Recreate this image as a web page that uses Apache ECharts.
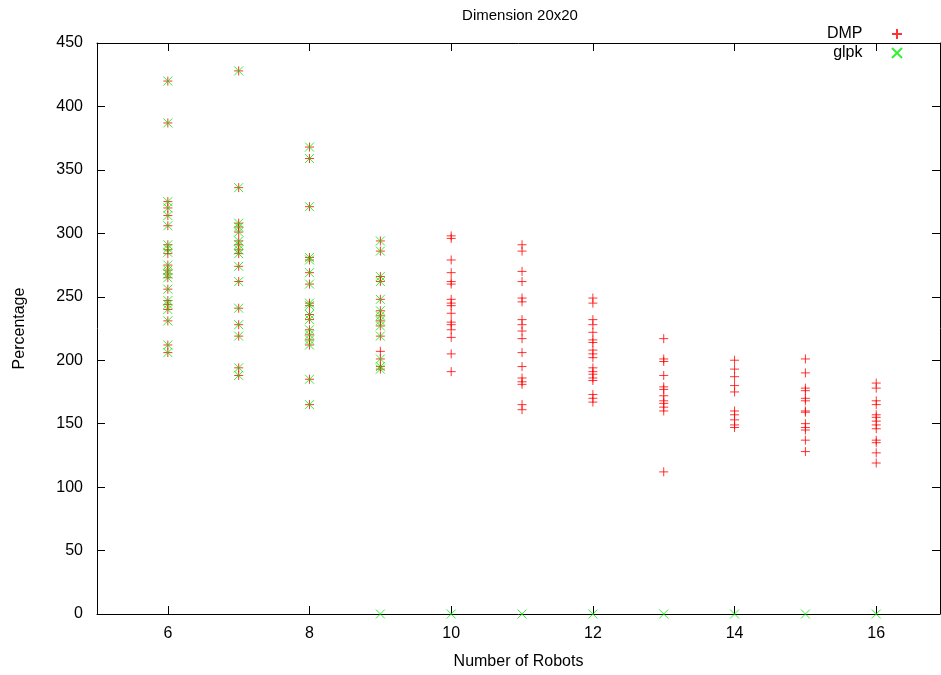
<!DOCTYPE html>
<html><head><meta charset="utf-8">
<script src="https://cdn.jsdelivr.net/npm/echarts@6/dist/echarts.min.js"></script>
<style>html,body{margin:0;padding:0;background:#fff}#c{width:941px;height:675px}</style>
</head><body><div id="c"></div>
<script>
const robots = [6, 7, 8, 9, 10, 11, 12, 13, 14, 15, 16];
const dmpValues = [
  [420, 387, 325, 320, 314, 306, 291, 287, 284, 275, 271, 268, 265, 256, 247, 244, 240, 231, 212, 206],
  [428, 336, 308, 305, 301, 294, 291, 287, 284, 274, 262, 241, 228, 219, 194, 188],
  [368, 359, 321, 281, 279, 269, 260, 245, 243, 236, 232, 224, 220, 216, 212, 185, 165],
  [294, 286, 266, 262, 248, 239, 235, 231, 227, 219, 207, 201, 195, 193],
  [298, 296, 279, 269, 262, 260, 248, 245, 243, 237, 230, 228, 224, 218, 205, 191],
  [291, 286, 270, 262, 249, 246, 232, 228, 223, 217, 206, 195, 186, 183, 181, 165, 161],
  [249, 245, 232, 228, 222, 216, 214, 208, 205, 202, 194, 191, 189, 186, 184, 173, 170, 167],
  [217, 201, 199, 188, 179, 177, 172, 168, 166, 163, 160, 112],
  [200, 193, 187, 180, 175, 160, 157, 153, 149, 147],
  [201, 190, 178, 176, 170, 168, 160, 159, 150, 147, 145, 137, 128],
  [182, 178, 168, 165, 157, 155, 152, 149, 146, 137, 135, 127, 119]
];
const glpkValues = [
  [420, 387, 325, 320, 314, 306, 291, 288, 285, 275, 271, 268, 265, 256, 247, 244, 240, 231, 212, 206],
  [428, 336, 308, 305, 301, 294, 291, 287, 284, 274, 262, 241, 228, 219, 194, 188],
  [368, 359, 321, 281, 279, 269, 260, 245, 243, 236, 232, 224, 220, 216, 212, 185, 165],
  [294, 286, 266, 262, 248, 239, 235, 231, 227, 219, 201, 195, 193, 0],
  [0], [0], [0], [0], [0], [0], [0]
];
const yTicks = [0, 50, 100, 150, 200, 250, 300, 350, 400, 450];
const xTicks = [6, 8, 10, 12, 14, 16];

function flatten(vals) {
  const out = [];
  robots.forEach((r, i) => vals[i].forEach(v => out.push([r, v])));
  return out;
}
const plusPath = 'path://M0,5L10,5M5,0L5,10';
const crossPath = 'path://M0,0L10,10M10,0L0,10';
const font = 'Liberation Sans, Arial, sans-serif';
const labelStyle = { fontFamily: font, fontSize: 16, color: '#000' };
const axisLine = { show: true, onZero: false, lineStyle: { color: '#000', width: 1 } };

const chart = echarts.init(document.getElementById('c'));
chart.setOption({
  animation: false,
  backgroundColor: '#fff',
  textStyle: { fontFamily: font },
  title: { text: 'Dimension 20x20', left: 515, top: 3, textAlign: 'center',
    textStyle: { fontFamily: font, fontSize: 15, fontWeight: 'normal', color: '#000' } },
  legend: {
    orient: 'vertical', right: 33, top: 21, align: 'right', itemGap: 3,
    itemWidth: 59, itemHeight: 10, symbolKeepAspect: true,
    textStyle: labelStyle,
    data: ['DMP', 'glpk']
  },
  grid: { left: 97, right: 1, top: 43, bottom: 60 },
  xAxis: [
    { type: 'value', min: 5, max: 16.9, position: 'bottom',
      name: 'Number of Robots', nameLocation: 'middle', nameGap: 40,
      nameTextStyle: labelStyle,
      axisLine: axisLine, splitLine: { show: false },
      axisTick: { show: true, inside: true, length: 8, customValues: xTicks, lineStyle: { color: '#000' } },
      axisLabel: Object.assign({ margin: 12, customValues: xTicks }, labelStyle) },
    { type: 'value', min: 5, max: 16.9, position: 'top',
      axisLine: axisLine, splitLine: { show: false },
      axisTick: { show: true, inside: true, length: 8, customValues: xTicks, lineStyle: { color: '#000' } },
      axisLabel: { show: false } }
  ],
  yAxis: [
    { type: 'value', min: 0, max: 450, interval: 50, position: 'left',
      name: 'Percentage', nameLocation: 'middle', nameGap: 69,
      nameTextStyle: labelStyle,
      axisLine: axisLine, splitLine: { show: false },
      axisTick: { show: true, inside: true, length: 8, customValues: yTicks, lineStyle: { color: '#000' } },
      axisLabel: Object.assign({ margin: 14, customValues: yTicks }, labelStyle) },
    { type: 'value', min: 0, max: 450, interval: 50, position: 'right',
      axisLine: axisLine, splitLine: { show: false },
      axisTick: { show: true, inside: true, length: 8, customValues: yTicks, lineStyle: { color: '#000' } },
      axisLabel: { show: false } }
  ],
  series: [
    { name: 'DMP', type: 'scatter', data: flatten(dmpValues), symbol: plusPath, symbolSize: 9,
      itemStyle: { color: 'rgba(0,0,0,0)', borderColor: '#ff0000', borderWidth: 1 } },
    { name: 'glpk', type: 'scatter', data: flatten(glpkValues), symbol: crossPath, symbolSize: 9,
      itemStyle: { color: 'rgba(0,0,0,0)', borderColor: '#00ee00', borderWidth: 1 } }
  ]
});
</script></body></html>
